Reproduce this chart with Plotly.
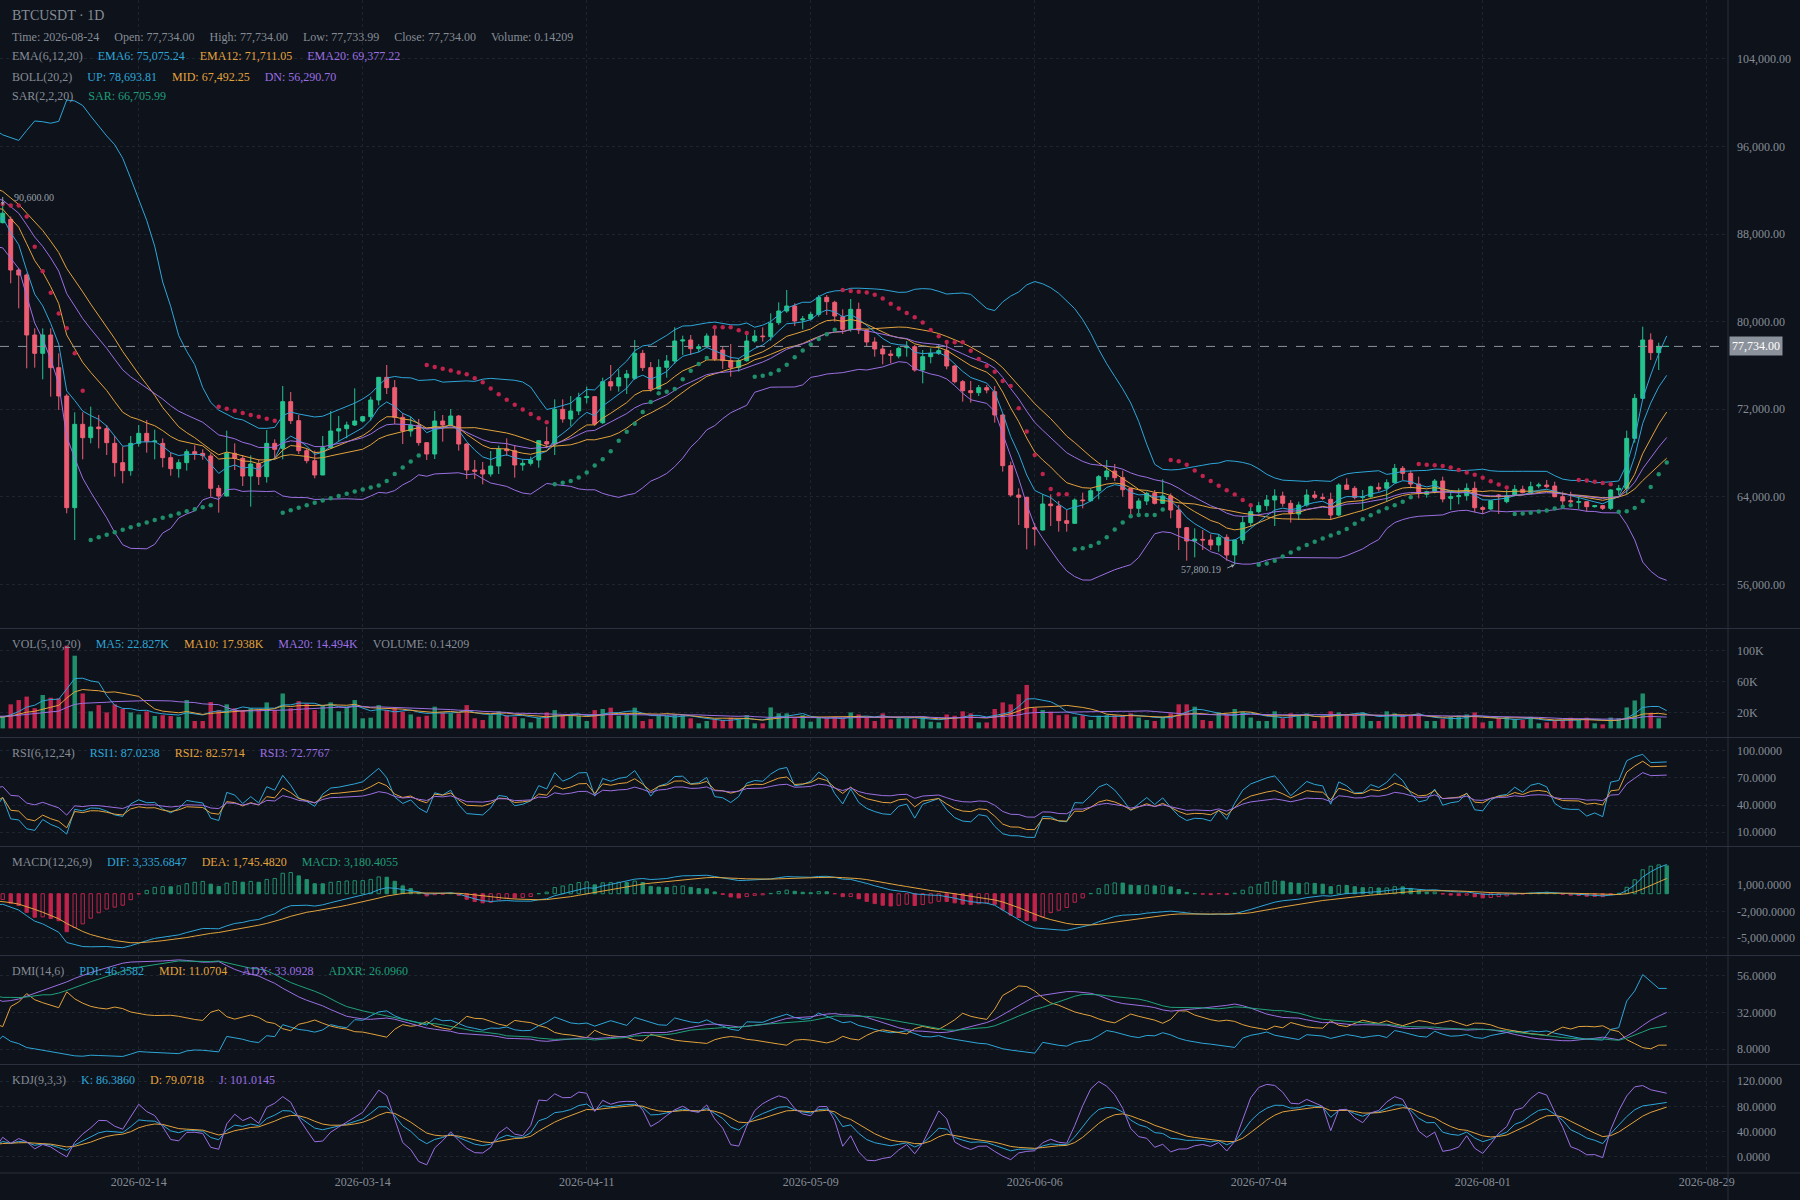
import pandas as pd
import numpy as np
import plotly.graph_objects as go
from plotly.subplots import make_subplots

FONT = 'Liberation Serif'
BG = '#0d121b'
GRID = '#1e2530'
SEP = '#2a313c'
GRAY = '#868c95'
CYAN = '#2ea6d8'
ORANGE = '#e3a23c'
PURPLE = '#9c6fe2'
GREEN_TXT = '#1f9e78'
UP = '#25c48f'
DOWN = '#ef5d72'
VOL_UP = '#1f8f6b'
VOL_DOWN = '#c0234b'

# warm-up days before the visible window (estimated from where the indicators start at the left edge)
warm_open = [91500, 92000, 93200, 94400, 93600, 92800, 94000, 95300, 96400, 95500, 94600, 95800, 97000, 96000, 94600,
             93200, 94300, 95400, 93800, 92200, 90800, 91900, 92800, 91200, 89600, 88600, 89800, 90600, 89400, 88200]
warm_high = [92400, 93600, 94800, 94800, 94000, 94400, 95700, 96800, 96800, 95900, 96200, 97400, 97400, 96400, 95000,
             94700, 95800, 95800, 94200, 92600, 92300, 93200, 93200, 91600, 90000, 90200, 91000, 91000, 89800, 89000]
warm_low = [91100, 91600, 92800, 93200, 92400, 92400, 93600, 94900, 95100, 94200, 94200, 95400, 95600, 94200, 92800,
            92800, 93900, 93400, 91800, 90400, 90400, 91500, 90800, 89200, 88200, 88200, 89400, 89000, 87800, 87800]
warm_close = [92000, 93200, 94400, 93600, 92800, 94000, 95300, 96400, 95500, 94600, 95800, 97000, 96000, 94600, 93200,
              94300, 95400, 93800, 92200, 90800, 91900, 92800, 91200, 89600, 88600, 89800, 90600, 89400, 88200, 88600]
warm_volume = [12000, 14000, 11000, 13000, 15000, 12000, 10000, 13000, 16000, 12000, 11000, 14000, 15000, 17000, 16000,
               18000, 14000, 17000, 13000, 16000, 15000, 18000, 12000, 16000, 14000, 13000, 17000, 15000, 12000, 14000]

# visible candles, 2026-01-28 .. 2026-08-24
open_px = [89035, 89340, 84713, 84256, 78777, 77102, 78777, 75793, 73206, 63008,
           70620, 69401, 70375, 70220, 68880, 67118, 66387, 68880, 69797, 69036,
           68880, 67575, 66570, 67118, 68123, 67970, 67727, 64775, 64075, 67970,
           67514, 65900, 66996, 65840, 68880, 68427, 72689, 70954, 68214, 67301,
           65992, 68488, 70010, 70223, 70558, 70923, 71319, 72841, 74911, 73967,
           71258, 70010, 70527, 68945, 67910, 70923, 70558, 71380, 68823, 66449,
           66449, 66083, 66814, 68366, 68214, 66905, 67057, 67362, 69036, 68823,
           71989, 71106, 71836, 73054, 73145, 70771, 74515, 74119, 74880, 74819,
           77102, 75793, 73845, 75824, 76402, 78228, 78320, 77528, 77711, 78685,
           77407, 76433, 75824, 76433, 78228, 78685, 78624, 79903, 80968, 81425,
           80146, 80237, 80663, 82216, 81760, 80450, 79294, 81120, 79233, 78137,
           77498, 77041, 76859, 77620, 77711, 75580, 76798, 77102, 77346, 75945,
           74515, 73693, 73510, 73967, 73602, 71471, 66844, 64165, 63952, 61182,
           60969, 63343, 63160, 61821, 61577, 63708, 63647, 64560, 65840, 66357,
           65748, 64774, 62948, 63617, 64318, 63404, 64074, 62796, 61182, 59965,
           60117, 60056, 59600, 60300, 58686, 60056, 61639, 62644, 63191, 63709,
           64074, 63404, 62430, 63252, 64165, 63952, 63770, 62339, 65078, 64774,
           63952, 64013, 64865, 64774, 65292, 66600, 66144, 65170, 64227, 64470,
           65444, 63861, 64013, 64105, 64774, 63009, 62887, 64165, 63557, 64166,
           64683, 64379, 64988, 65079, 64988, 64014, 63648, 63496, 63557, 63100,
           63191, 62948, 64622, 64774, 69341, 72993, 78320, 77164, 77734]
high_px = [90600, 89600, 84900, 84400, 79385, 79385, 79385, 77100, 73400, 71715,
           71715, 72232, 71470, 70560, 69553, 68580, 69553, 70560, 71014, 70130,
           69340, 68030, 67423, 68337, 68700, 68337, 67970, 65080, 70040, 68880,
           67820, 67788, 67423, 70100, 69250, 74120, 73572, 71471, 68427, 68214,
           69554, 71836, 71380, 70862, 73906, 71380, 73145, 74911, 76037, 74667,
           71623, 71319, 71106, 69000, 71836, 71471, 72019, 71471, 68900, 67362,
           67179, 68184, 68671, 69340, 68732, 67423, 67666, 69188, 70406, 72902,
           72902, 73206, 73510, 74058, 73206, 74880, 76037, 75641, 75580, 78320,
           77407, 76311, 76554, 76950, 79476, 78716, 78776, 77955, 78928, 79476,
           77711, 77955, 76600, 78928, 79233, 79476, 80755, 81760, 82886, 81668,
           80511, 80907, 82429, 82429, 81900, 81120, 82064, 81729, 79300, 78563,
           77863, 77407, 77711, 78228, 77863, 77407, 77559, 77924, 78106, 76037,
           74667, 74576, 74210, 74210, 74119, 71600, 67210, 64773, 64000, 61577,
           64226, 64226, 63617, 62795, 63860, 64378, 64774, 65992, 67362, 66996,
           66387, 64800, 63861, 64470, 64622, 65596, 64318, 63252, 61250, 61121,
           60969, 60573, 60604, 60573, 60117, 62248, 63100, 63556, 64165, 64683,
           64470, 63709, 63556, 64683, 64531, 64318, 64379, 65231, 65687, 64987,
           64622, 65018, 65292, 65596, 66996, 66814, 66388, 65840, 64561, 65627,
           65840, 64470, 64774, 65231, 65384, 63161, 63709, 64250, 64622, 65079,
           65018, 65383, 65292, 65536, 65384, 64470, 64470, 63922, 63600, 63252,
           63252, 64700, 65079, 70040, 73389, 79538, 78929, 78077, 77734]
low_px = [88970, 83495, 81212, 75733, 75794, 74728, 73145, 71929, 62492, 60054,
          67423, 68884, 68425, 67820, 65840, 65231, 65930, 68580, 68030, 67423,
          66690, 65930, 65750, 66387, 67380, 67380, 64013, 62553, 64013, 66448,
          64987, 63100, 65080, 65292, 67514, 67423, 70649, 67910, 67057, 65688,
          65992, 68427, 69036, 69340, 70467, 70800, 70954, 72354, 73389, 70649,
          68823, 69493, 68671, 67362, 67453, 69036, 70467, 68214, 65627, 65627,
          65140, 65840, 66083, 67727, 65749, 66388, 66844, 66662, 68427, 67818,
          70771, 70466, 71471, 72536, 70466, 70649, 73693, 73602, 73389, 74667,
          75489, 73602, 73845, 74880, 76128, 76950, 76950, 77193, 77559, 76400,
          75671, 74971, 75428, 76341, 78076, 78167, 78259, 79700, 80800, 79598,
          79294, 80100, 80450, 80602, 79994, 78867, 79080, 78867, 77772, 76798,
          76098, 76189, 76646, 76798, 75428, 74362, 76189, 76950, 75641, 74362,
          72688, 72597, 73206, 73450, 70771, 66296, 64000, 61425, 59203, 59538,
          60908, 61334, 60817, 60817, 61516, 62947, 63556, 63769, 65535, 65444,
          64013, 62339, 62339, 63252, 63300, 63350, 62035, 59143, 58169, 58473,
          59143, 59143, 58990, 58169, 57800.19, 59691, 61273, 62491, 62735, 61334,
          63100, 61639, 61882, 63100, 63770, 63709, 61882, 62200, 64622, 63770,
          62796, 63900, 64470, 63556, 65231, 65535, 64774, 63861, 63922, 64318,
          63496, 62796, 63313, 63648, 62583, 62431, 62800, 62431, 63405, 64050,
          64318, 64257, 64775, 64775, 63953, 63252, 63405, 62887, 62644, 63009,
          62796, 62796, 64166, 64257, 68945, 72900, 76494, 75581, 77733.99]
close_px = [89900, 84713, 84256, 78777, 77102, 78777, 75793, 73206, 63008, 70620,
            69401, 70375, 70220, 68944, 67118, 66387, 68880, 69797, 69036, 69100,
            67575, 66570, 67118, 68123, 67910, 67760, 64775, 64075, 67970, 67514,
            65900, 66996, 65840, 68880, 68337, 72690, 70954, 68214, 67301, 65992,
            68488, 70010, 70223, 70558, 70923, 71319, 72841, 74911, 73967, 71258,
            70010, 70527, 68945, 67910, 70923, 70558, 71380, 68823, 66449, 66327,
            66083, 66814, 68366, 68214, 66905, 67057, 67362, 69127, 68823, 71989,
            71106, 71836, 73054, 73145, 70649, 74515, 74119, 74880, 75215, 77102,
            75793, 73845, 75824, 76402, 78228, 78320, 77528, 77711, 78685, 76585,
            76433, 75824, 76433, 78228, 78685, 78624, 79842, 80968, 81425, 80055,
            80237, 80663, 82216, 81820, 80511, 79294, 81120, 79233, 78137, 77498,
            77041, 76920, 77559, 77711, 75580, 76798, 77102, 77346, 75945, 74515,
            73693, 73510, 73967, 73754, 71471, 66844, 64165, 63952, 61182, 61060,
            63343, 63191, 61821, 61577, 63708, 63647, 64560, 65840, 66357, 65748,
            64650, 62948, 63617, 64318, 63404, 64074, 62796, 61182, 59965, 60147,
            60056, 59600, 60300, 58686, 60056, 61639, 62644, 63191, 63709, 64074,
            63404, 62491, 63252, 64165, 63952, 63861, 62339, 65078, 64683, 63952,
            64013, 64926, 64713, 65292, 66600, 66144, 65170, 64318, 64470, 65444,
            63800, 64013, 64105, 64774, 63009, 62857, 63648, 64013, 64105, 64683,
            64379, 64926, 65079, 64927, 64014, 63618, 63557, 63557, 63100, 63191,
            62948, 64622, 64774, 69341, 72993, 78320, 77164, 77734, 77734]
volume = [15000, 31000, 36500, 41000, 26000, 43000, 39500, 38700, 106600, 93700,
          45000, 22000, 30000, 20600, 31000, 25000, 20600, 18000, 22000, 16000,
          17000, 16000, 15000, 36500, 9500, 9500, 34000, 23600, 31000, 26000,
          23600, 26000, 23600, 33500, 23600, 45000, 26000, 35000, 32000, 23600,
          29000, 33500, 22000, 28000, 36500, 13000, 13800, 30000, 23600, 26000,
          21500, 18000, 15000, 16300, 28000, 20600, 19400, 19400, 30000, 13000,
          10800, 17000, 22000, 17000, 15000, 13000, 7700, 13800, 20600, 23600,
          16300, 17000, 16300, 9500, 23600, 25000, 26700, 16300, 18000, 26700,
          9500, 12000, 16300, 16300, 18000, 17000, 13000, 6500, 9500, 12000,
          10800, 13800, 10800, 17000, 6500, 6500, 27000, 19400, 19400, 13000,
          17000, 8600, 14000, 13000, 15000, 12000, 20600, 18000, 13800, 9500,
          19400, 11600, 13000, 13000, 11600, 15000, 8600, 7700, 18000, 16300,
          22000, 19400, 7700, 7700, 25000, 33500, 31000, 44000, 56000, 26700,
          23600, 21500, 17000, 18000, 15000, 17000, 10800, 16300, 17000, 17000,
          17000, 19400, 14000, 10800, 9500, 15000, 19400, 31000, 31000, 28000,
          10800, 9500, 20600, 18000, 25000, 21500, 14000, 9500, 9500, 22000,
          13000, 19400, 16300, 19400, 9500, 16300, 22000, 20600, 18500, 18000,
          20600, 9500, 9500, 22000, 19400, 16300, 16300, 19400, 9500, 9500,
          12000, 15000, 16300, 18000, 20600, 7700, 9500, 13000, 15000, 12000,
          10800, 15000, 6500, 7700, 10800, 10800, 13800, 10800, 13800, 6500,
          5200, 14000, 13000, 27000, 36000, 45000, 20000, 13000, 0.14209]

first_day = '2025-12-29'
view_start = '2026-01-28'
tick_dates = ['2026-02-14', '2026-03-14', '2026-04-11', '2026-05-09',
              '2026-06-06', '2026-07-04', '2026-08-01', '2026-08-29']

df = pd.DataFrame({
    'open': warm_open + open_px,
    'high': warm_high + high_px,
    'low': warm_low + low_px,
    'close': warm_close + close_px,
    'volume': warm_volume + volume,
})
df.index = pd.date_range(first_day, periods=len(df), freq='D')
x = df.index
o, h, l, c, v = df['open'], df['high'], df['low'], df['close'], df['volume']

# indicators
ema6 = c.ewm(span=6, adjust=False).mean()
ema12 = c.ewm(span=12, adjust=False).mean()
ema20 = c.ewm(span=20, adjust=False).mean()
mid = c.rolling(20).mean()
sd = c.rolling(20).std(ddof=0)
boll_up = mid + 2 * sd
boll_dn = mid - 2 * sd


def parabolic_sar(hi, lo, step=0.02, max_af=0.2):
    hi = list(hi)
    lo = list(lo)
    out = [0.0] * len(hi)
    rising = [True] * len(hi)
    up = True
    af = step
    ep = hi[0]
    s = lo[0]
    out[0] = s
    for i in range(1, len(hi)):
        s = s + af * (ep - s)
        if up:
            s = min(s, lo[i - 1], lo[max(i - 2, 0)])
            if lo[i] < s:
                up = False
                s = ep
                ep = lo[i]
                af = step
            elif hi[i] > ep:
                ep = hi[i]
                af = min(af + step, max_af)
        else:
            s = max(s, hi[i - 1], hi[max(i - 2, 0)])
            if hi[i] > s:
                up = True
                s = ep
                ep = hi[i]
                af = step
            elif lo[i] < ep:
                ep = lo[i]
                af = min(af + step, max_af)
        out[i] = s
        rising[i] = up
    return out, rising


sar, sar_up = parabolic_sar(h, l)
sar_colors = [VOL_UP if r else VOL_DOWN for r in sar_up]

vol_ma5 = v.rolling(5).mean()
vol_ma10 = v.rolling(10).mean()
vol_ma20 = v.rolling(20).mean()
vol_colors = [VOL_UP if cc > oo else (VOL_DOWN if cc < oo else '#888888') for oo, cc in zip(o, c)]

d = c.diff()


def rsi(n):
    gain = d.clip(lower=0).ewm(alpha=1 / n, adjust=False).mean()
    tot = d.abs().ewm(alpha=1 / n, adjust=False).mean()
    return gain / tot * 100


rsi6, rsi12, rsi24 = rsi(6), rsi(12), rsi(24)

dif = c.ewm(span=12, adjust=False).mean() - c.ewm(span=26, adjust=False).mean()
dea = dif.ewm(span=9, adjust=False).mean()
macd = (dif - dea) * 2
macd_col = [VOL_UP if m > 0 else VOL_DOWN for m in macd]
macd_hollow = (macd > macd.shift(1)).tolist()
macd_fill = ['rgba(0,0,0,0)' if hol else col for hol, col in zip(macd_hollow, macd_col)]

prev_c = c.shift(1)
tr = pd.concat([h - l, (h - prev_c).abs(), (prev_c - l).abs()], axis=1).max(axis=1)
hd = h - h.shift(1)
ld = l.shift(1) - l
dmp = pd.Series(np.where((hd > 0) & (hd > ld), hd, 0.0), index=x)
dmm = pd.Series(np.where((ld > 0) & (ld > hd), ld, 0.0), index=x)
mtr = tr.ewm(alpha=1 / 14, adjust=False).mean()
pdi = dmp.ewm(alpha=1 / 14, adjust=False).mean() / mtr * 100
mdi = dmm.ewm(alpha=1 / 14, adjust=False).mean() / mtr * 100
dx = (mdi - pdi).abs() / (mdi + pdi) * 100
adx = dx.ewm(alpha=1 / 14, adjust=False).mean()
adxr = (adx + adx.shift(6)) / 2

llv = l.rolling(9, min_periods=1).min()
hhv = h.rolling(9, min_periods=1).max()
rsv = (c - llv) / (hhv - llv) * 100
k = rsv.ewm(alpha=1 / 3, adjust=False).mean()
dd = k.ewm(alpha=1 / 3, adjust=False).mean()
j = 3 * k - 2 * dd

# figure
fig = make_subplots(rows=6, cols=1, shared_xaxes=True, vertical_spacing=0)


def line(y, color, row, width=1):
    fig.add_trace(go.Scatter(x=x, y=y, mode='lines', line=dict(color=color, width=width),
                             showlegend=False, hoverinfo='skip'), row=row, col=1)


fig.add_trace(go.Candlestick(
    x=x, open=o, high=h, low=l, close=c, whiskerwidth=0,
    increasing=dict(line=dict(color=UP, width=1), fillcolor=UP),
    decreasing=dict(line=dict(color=DOWN, width=1), fillcolor=DOWN),
    showlegend=False), row=1, col=1)
line(boll_up, CYAN, 1)
line(mid, ORANGE, 1)
line(boll_dn, PURPLE, 1)
line(ema6, CYAN, 1)
line(ema12, ORANGE, 1)
line(ema20, PURPLE, 1)
fig.add_trace(go.Scatter(x=x, y=sar, mode='markers', marker=dict(color=sar_colors, size=4.5),
                         showlegend=False, hoverinfo='skip'), row=1, col=1)

day_ms = 86400000
fig.add_trace(go.Bar(x=x, y=v, marker=dict(color=vol_colors, line=dict(width=0)), width=0.56 * day_ms,
                     showlegend=False, hoverinfo='skip'), row=2, col=1)
line(vol_ma5, CYAN, 2)
line(vol_ma10, ORANGE, 2)
line(vol_ma20, PURPLE, 2)

line(rsi6, CYAN, 3)
line(rsi12, ORANGE, 3)
line(rsi24, PURPLE, 3)

fig.add_trace(go.Bar(x=x, y=macd, marker=dict(color=macd_fill, line=dict(color=macd_col, width=1)),
                     width=0.42 * day_ms, showlegend=False, hoverinfo='skip'), row=4, col=1)
line(dif, CYAN, 4)
line(dea, ORANGE, 4)

line(pdi, CYAN, 5)
line(mdi, ORANGE, 5)
line(adx, PURPLE, 5)
line(adxr, '#20a27a', 5)

line(k, CYAN, 6)
line(dd, ORANGE, 6)
line(j, PURPLE, 6)

# layout: plot area is 1728 x 1173 px
PLOT_H = 1173
domains = [(628, 0), (737, 629), (846, 738), (955, 847), (1064, 956), (1173, 1065)]
ranges = [[52020, 109369], [-11100, 128100], [-5.2, 113.9], [-6957, 5304], [-1.75, 68.75], [-25.5, 145.5]]
tickvals = [
    list(range(56000, 104001, 8000)),
    [20000, 60000, 100000],
    [10, 40, 70, 100],
    [-5000, -2000, 1000],
    [8, 32, 56],
    [0, 40, 80, 120],
]
ticktexts = [
    [f'{t:,.2f}' for t in tickvals[0]],
    ['20K', '60K', '100K'],
    [f'{t:.4f}' for t in tickvals[2]],
    [f'{t:,.4f}' for t in tickvals[3]],
    [f'{t:.4f}' for t in tickvals[4]],
    [f'{t:.4f}' for t in tickvals[5]],
]
for idx in range(6):
    name = 'yaxis' if idx == 0 else f'yaxis{idx + 1}'
    bot, top = domains[idx]
    fig.layout[name].update(
        domain=[1 - bot / PLOT_H, 1 - top / PLOT_H], range=ranges[idx], side='right',
        tickvals=tickvals[idx], ticktext=ticktexts[idx], showgrid=True, gridcolor=GRID, griddash='dot',
        zeroline=False, showline=False, ticks='', ticklabelstandoff=8,
        tickfont=dict(family=FONT, size=12, color=GRAY), fixedrange=True)

x0 = pd.Timestamp(view_start) - pd.Timedelta(hours=0.34 * 24)
x1 = pd.Timestamp(view_start) + pd.Timedelta(hours=215.66 * 24)
fig.update_xaxes(range=[str(x0), str(x1)], tickvals=tick_dates, ticktext=tick_dates,
                 showgrid=True, gridcolor=GRID, griddash='dot', zeroline=False, showline=False,
                 ticks='', rangeslider_visible=False,
                 tickfont=dict(family=FONT, size=12, color=GRAY))

fig.update_layout(
    width=1800, height=1200, margin=dict(l=0, r=72, t=0, b=27),
    paper_bgcolor=BG, plot_bgcolor=BG, hovermode=False, showlegend=False,
    font=dict(family=FONT, size=12, color=GRAY),
)

# pane separators and right axis border
shapes = []
for px in [628.5, 737.5, 846.5, 955.5, 1064.5, 1173]:
    yy = 1 - px / PLOT_H
    shapes.append(dict(type='line', xref='paper', yref='paper', x0=0, x1=1.042, y0=yy, y1=yy,
                       line=dict(color=SEP, width=1)))
shapes.append(dict(type='line', xref='paper', yref='paper', x0=1, x1=1, y0=-27 / PLOT_H, y1=1,
                   line=dict(color=SEP, width=1)))
last_close = close_px[-1]
shapes.append(dict(type='line', xref='paper', yref='y', x0=0, x1=1, y0=last_close, y1=last_close,
                   line=dict(color='#8c929b', width=1, dash='dash')))
fig.update_layout(shapes=shapes)

GAP = '&nbsp;' * 5


def legend(parts, y_px, size=12):
    text = GAP.join(f'<span style="color:{col}">{t}</span>' for t, col in parts)
    fig.add_annotation(x=11.5 / 1728, xref='paper', y=1 - y_px / PLOT_H, yref='paper', text=text,
                       showarrow=False, xanchor='left', yanchor='middle', xshift=-2,
                       font=dict(family=FONT, size=size, color=GRAY))


legend([('BTCUSDT · 1D', GRAY)], 16, size=14)
legend([('Time: 2026-08-24', GRAY), ('Open: 77,734.00', GRAY), ('High: 77,734.00', GRAY),
        ('Low: 77,733.99', GRAY), ('Close: 77,734.00', GRAY), ('Volume: 0.14209', GRAY)], 37)
legend([('EMA(6,12,20)', GRAY), ('EMA6: 75,075.24', CYAN), ('EMA12: 71,711.05', ORANGE),
        ('EMA20: 69,377.22', PURPLE)], 56.5)
legend([('BOLL(20,2)', GRAY), ('UP: 78,693.81', CYAN), ('MID: 67,492.25', ORANGE),
        ('DN: 56,290.70', PURPLE)], 77)
legend([('SAR(2,2,20)', GRAY), ('SAR: 66,705.99', GREEN_TXT)], 96.5)
legend([('VOL(5,10,20)', GRAY), ('MA5: 22.827K', CYAN), ('MA10: 17.938K', ORANGE),
        ('MA20: 14.494K', PURPLE), ('VOLUME: 0.14209', GRAY)], 644)
legend([('RSI(6,12,24)', GRAY), ('RSI1: 87.0238', CYAN), ('RSI2: 82.5714', ORANGE),
        ('RSI3: 72.7767', PURPLE)], 753)
legend([('MACD(12,26,9)', GRAY), ('DIF: 3,335.6847', CYAN), ('DEA: 1,745.4820', ORANGE),
        ('MACD: 3,180.4055', GREEN_TXT)], 862)
legend([('DMI(14,6)', GRAY), ('PDI: 46.3582', CYAN), ('MDI: 11.0704', ORANGE),
        ('ADX: 33.0928', PURPLE), ('ADXR: 26.0960', GREEN_TXT)], 971)
legend([('KDJ(9,3,3)', GRAY), ('K: 86.3860', CYAN), ('D: 79.0718', ORANGE),
        ('J: 101.0145', PURPLE)], 1080)

# last price tag
fig.add_annotation(x=1, xref='paper', xanchor='left', xshift=1, y=last_close, yref='y',
                   text=f'{last_close:,.2f}', showarrow=False, bgcolor='#8c929b', borderpad=2,
                   font=dict(family=FONT, size=12, color='#ffffff'))

# highest / lowest marks in view
vis_high = high_px.index(max(high_px))
vis_low = low_px.index(min(low_px))
hi_day = pd.Timestamp(view_start) + pd.Timedelta(days=vis_high)
lo_day = pd.Timestamp(view_start) + pd.Timedelta(days=vis_low)
fig.add_annotation(x=hi_day, y=max(high_px), xref='x', yref='y', text=f'{max(high_px):,.2f}',
                   showarrow=False, xanchor='left', yanchor='middle', xshift=9, yshift=8,
                   font=dict(family=FONT, size=10, color='#9aa0a8'))
fig.add_annotation(x=hi_day, y=max(high_px), xref='x', yref='y', text='', showarrow=True,
                   ax=0, ay=-10, arrowhead=2, arrowsize=0.7, arrowwidth=1, arrowcolor='#9aa0a8')
fig.add_annotation(x=lo_day, y=min(low_px), xref='x', yref='y', text=f'{min(low_px):,.2f}',
                   showarrow=False, xanchor='right', yanchor='middle', xshift=-12, yshift=-5,
                   font=dict(family=FONT, size=10, color='#9aa0a8'))
fig.add_annotation(x=lo_day, y=min(low_px), xref='x', yref='y', text='', showarrow=True,
                   ax=-9, ay=4, arrowhead=2, arrowsize=0.7, arrowwidth=1, arrowcolor='#9aa0a8')

page_js = "document.body.style.margin='0';document.body.style.background='%s';" % BG
fig.write_html('out.html', post_script=page_js, config={'displayModeBar': False})
